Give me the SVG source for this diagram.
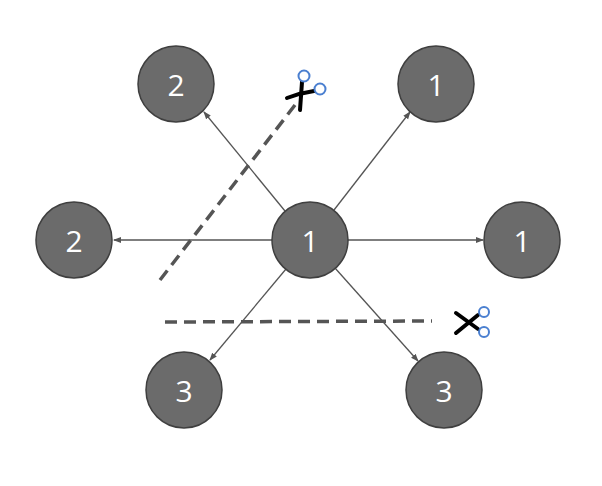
<svg xmlns="http://www.w3.org/2000/svg" width="602" height="486" viewBox="0 0 602 486">
<style>
.n{fill:#6b6b6b;stroke:#3f3f3f;stroke-width:1.5}
.t{font-family:"Open Sans","Liberation Sans",sans-serif;font-size:30px;fill:#fff;text-anchor:middle;dominant-baseline:central}
.e{stroke:#555;stroke-width:1.3;fill:none;marker-end:url(#a)}
.d{stroke:#555;stroke-width:3.5;stroke-dasharray:12,7;fill:none}
.b{stroke:#000;stroke-width:4;stroke-linecap:round;fill:none}
.r{stroke:#4a7fd0;stroke-width:2;fill:#fff}
</style>
<defs><marker id="a" markerWidth="8" markerHeight="8" refX="7" refY="4" orient="auto" markerUnits="userSpaceOnUse"><path d="M0,1L8,4L0,7z" fill="#555"/></marker></defs>
<rect width="602" height="486" fill="#fff"/>
<g id="connectors">
<line class="e" x1="285" y1="211" x2="204" y2="112"/>
<line class="e" x1="334" y1="210" x2="410" y2="112"/>
<line class="e" x1="272" y1="240" x2="114" y2="240"/>
<line class="e" x1="348" y1="240" x2="483" y2="240"/>
<line class="e" x1="286" y1="269" x2="210" y2="360"/>
<line class="e" x1="335" y1="268" x2="418" y2="361"/>
<line class="d" x1="160" y1="280" x2="295" y2="105"/>
<line class="d" x1="165" y1="322" x2="432" y2="321"/>
</g>
<g id="scissors1">
<path class="b" d="M287,98 Q300,93 314,91"/><path class="b" d="M302,82 L300,110"/>
<circle class="r" cx="304" cy="76" r="5.5"/><circle class="r" cx="320" cy="89" r="5.5"/>
</g>
<g id="scissors2">
<path class="b" d="M456,313 L478,329"/><path class="b" d="M456,333 L478,315"/>
<circle class="r" cx="484" cy="312" r="5"/><circle class="r" cx="484" cy="332" r="5"/>
</g>
<g id="n0"><circle class="n" cx="310" cy="240" r="38"/><text class="t" x="310" y="240">1</text></g>
<g id="n1"><circle class="n" cx="176" cy="84" r="38"/><text class="t" x="176" y="84">2</text></g>
<g id="n2"><circle class="n" cx="436" cy="84" r="38"/><text class="t" x="436" y="84">1</text></g>
<g id="n3"><circle class="n" cx="74" cy="240" r="38"/><text class="t" x="74" y="240">2</text></g>
<g id="n4"><circle class="n" cx="522" cy="240" r="38"/><text class="t" x="522" y="240">1</text></g>
<g id="n5"><circle class="n" cx="184" cy="390" r="38"/><text class="t" x="184" y="390">3</text></g>
<g id="n6"><circle class="n" cx="444" cy="390" r="38"/><text class="t" x="444" y="390">3</text></g>
</svg>
